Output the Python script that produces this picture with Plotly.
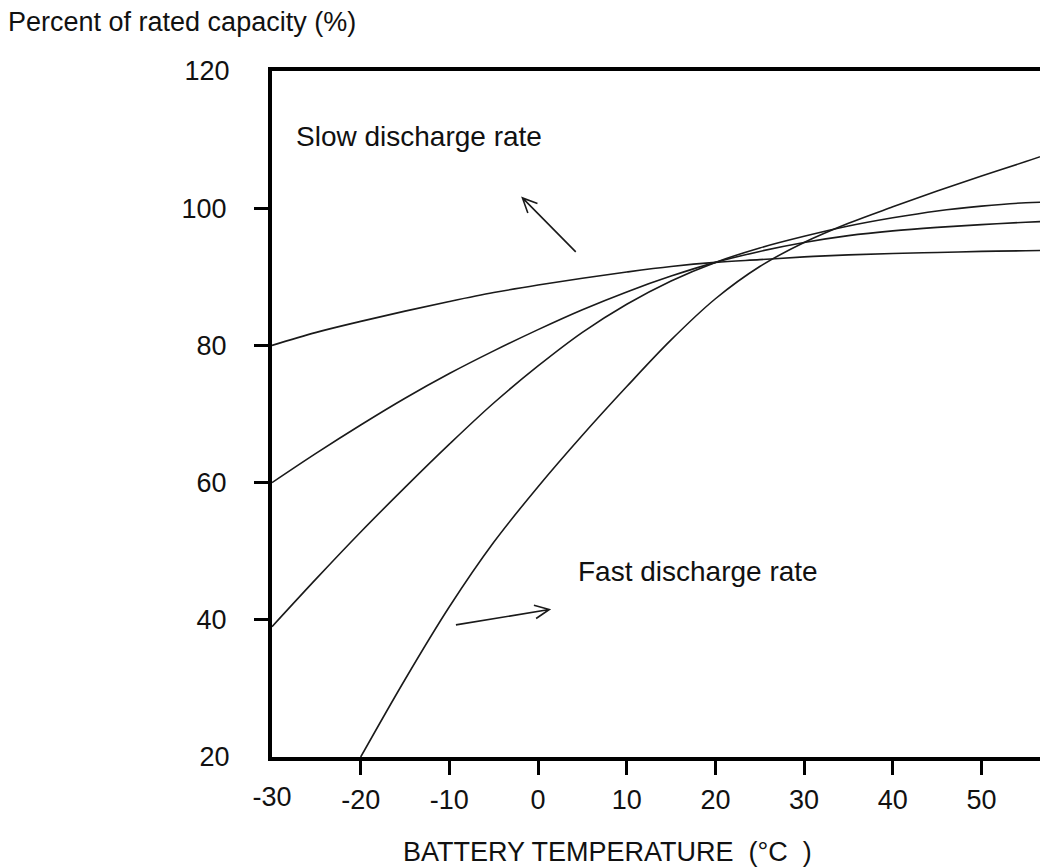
import plotly.graph_objects as go

# ---------------- data ----------------
temperature_c = [-30, -25, -20, -15, -10, -5, 0, 5, 10, 15, 20, 25, 30, 35, 40, 45, 50, 55, 57.5]
capacity_slowest = [80.0, 81.9, 83.5, 85.0, 86.4, 87.7, 88.8, 89.8, 90.7, 91.5, 92.1, 92.5, 92.9, 93.2, 93.4, 93.55, 93.7, 93.8, 93.85]
capacity_slow = [60.0, 64.3, 68.4, 72.3, 75.9, 79.2, 82.3, 85.2, 87.8, 90.1, 92.1, 93.7, 95.0, 96.0, 96.7, 97.2, 97.6, 97.95, 98.1]
capacity_fast = [39.0, 46.0, 52.8, 59.3, 65.6, 71.6, 77.0, 81.9, 86.0, 89.4, 92.1, 94.2, 95.9, 97.4, 98.6, 99.6, 100.3, 100.8, 100.9]
capacity_fastest = [None, None, 20.0, 31.3, 41.9, 51.3, 59.4, 66.9, 74.0, 80.8, 86.8, 91.5, 95.0, 97.8, 100.2, 102.5, 104.7, 106.8, 107.9]

x_ticks_marked = [-20, -10, 0, 10, 20, 30, 40, 50]
x_ticks_unmarked = [-30]
y_ticks_marked = [40, 60, 80, 100]
y_ticks_unmarked = [20, 120]
x_range = [-30, 57.5]
y_range = [20, 120]

title_text = "Percent of rated capacity (%)"
x_title_text = "BATTERY TEMPERATURE\u00a0\u00a0(°C\u00a0\u00a0)"
slow_label = "Slow discharge rate"
fast_label = "Fast discharge rate"
slow_label_pos = (-27.5, 110.4)
fast_label_pos = (4.3, 47.0)
slow_arrow_head = (-1.76, 101.5)
fast_arrow_head = (1.27, 41.5)


def tick_text(vals):
    # the reference prints a plain hyphen-minus
    return [str(v) for v in vals]


# ---------------- styling ----------------
# the page body keeps an 8px margin, so the figure is 8px smaller than the window
W, H = 1040, 859
PL, PT, PB = 264, 63, 110
FONT = "Liberation Sans, Arial, Helvetica, sans-serif"
INK = "#111111"
CURVE = "#1a1a1a"

fig = go.Figure()
for series in (capacity_slowest, capacity_slow, capacity_fast, capacity_fastest):
    fig.add_trace(go.Scatter(
        x=temperature_c, y=series, mode="lines",
        line=dict(color=CURVE, width=1.6, shape="spline", smoothing=1.0),
        showlegend=False, hoverinfo="skip",
    ))
# empty trace that hosts the overlay axes (labels without tick marks)
fig.add_trace(go.Scatter(x=[], y=[], xaxis="x2", yaxis="y2",
                         showlegend=False, hoverinfo="skip"))

tickfont = dict(family=FONT, size=27, color=INK)
common_x = dict(range=x_range, showgrid=False, zeroline=False, tickfont=tickfont,
                ticks="outside", ticklen=14, tickwidth=3, ticklabelstandoff=2,
                fixedrange=True, tickmode="array")
common_y = dict(range=y_range, showgrid=False, zeroline=False, tickfont=tickfont,
                ticks="outside", ticklen=14, tickwidth=3, ticklabelstandoff=22,
                fixedrange=True, tickmode="array")

fig.update_layout(
    width=W, height=H,
    margin=dict(l=PL, r=0, t=PT, b=PB, pad=0),
    paper_bgcolor="white", plot_bgcolor="white",
    xaxis=dict(**common_x, tickvals=x_ticks_marked, ticktext=tick_text(x_ticks_marked),
               tickcolor="black", showline=True, linecolor="black", linewidth=4, mirror=True),
    yaxis=dict(**common_y, tickvals=y_ticks_marked, ticktext=tick_text(y_ticks_marked),
               tickcolor="black", showline=True, linecolor="black", linewidth=4, mirror=False),
    xaxis2=dict(**common_x, tickvals=x_ticks_unmarked, ticktext=tick_text(x_ticks_unmarked),
                tickcolor="rgba(0,0,0,0)", showline=False, overlaying="x", anchor="y2",
                side="bottom"),
    yaxis2=dict(**common_y, tickvals=y_ticks_unmarked, ticktext=tick_text(y_ticks_unmarked),
                tickcolor="rgba(0,0,0,0)", showline=False, overlaying="y", anchor="x2",
                side="left"),
    title=dict(text=title_text, xref="container", yref="container",
               x=0, xanchor="left", y=1 - 14 / H, yanchor="middle",
               font=dict(family=FONT, size=27, color=INK)),
)

plot_w = W - PL
plot_h = H - PT - PB
fig.add_annotation(text=x_title_text, xref="paper", yref="paper",
                   x=(599 - PL) / plot_w, y=-(844 - (H - PB)) / plot_h,
                   xanchor="center", yanchor="middle", showarrow=False,
                   font=dict(family=FONT, size=27, color=INK))
fig.add_annotation(text=slow_label, x=slow_label_pos[0], y=slow_label_pos[1],
                   xanchor="left", yanchor="middle", showarrow=False,
                   font=dict(family=FONT, size=28, color=INK))
fig.add_annotation(text=fast_label, x=fast_label_pos[0], y=fast_label_pos[1],
                   xanchor="left", yanchor="middle", showarrow=False,
                   font=dict(family=FONT, size=28, color=INK))

# arrows: shaft + open V head, drawn in pixels around a data-anchored tip
arrow_line = dict(color=CURVE, width=1.6)
fig.add_shape(type="path", xref="x", yref="y", xsizemode="pixel", ysizemode="pixel",
              xanchor=slow_arrow_head[0], yanchor=slow_arrow_head[1],
              path="M53.3,-54 L0,0 M15.0,-5.6 L0,0 L5.4,-15.1", line=arrow_line)
fig.add_shape(type="path", xref="x", yref="y", xsizemode="pixel", ysizemode="pixel",
              xanchor=fast_arrow_head[0], yanchor=fast_arrow_head[1],
              path="M-93.4,-15.4 L0,0 M-13.2,-9.0 L0,0 L-15.4,4.3", line=arrow_line)

fig.write_html("out.html", config=dict(displayModeBar=False))
